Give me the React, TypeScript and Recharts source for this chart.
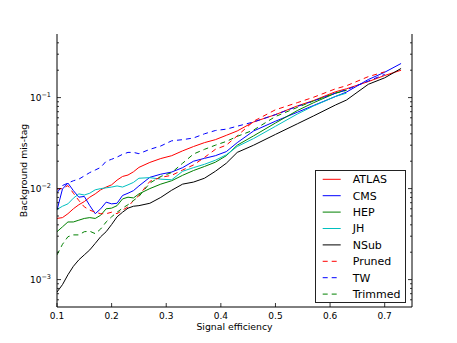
import { LineChart, Line, XAxis, YAxis, Legend } from 'recharts';

// signal efficiency grid shared by all taggers
const effGrid = [
  0.10, 0.11, 0.12, 0.13, 0.14, 0.15, 0.16, 0.17, 0.18, 0.19, 0.20, 0.21, 0.22, 0.23, 0.24, 0.25,
  0.27, 0.29, 0.31, 0.33, 0.35, 0.37, 0.39, 0.41, 0.43, 0.46, 0.50, 0.54, 0.57, 0.61, 0.63, 0.67, 0.70, 0.73,
];

const atlas = [
  0.0047, 0.0048, 0.0053, 0.0060, 0.00665, 0.0072, 0.00805, 0.00875, 0.0097, 0.0104, 0.011, 0.0124, 0.0136, 0.0141, 0.0153, 0.0171,
  0.0194, 0.0214, 0.023, 0.026, 0.029, 0.032, 0.0345, 0.0385, 0.043, 0.054, 0.065, 0.081, 0.093, 0.116, 0.125, 0.15, 0.175, 0.2,
];
const cms = [
  0.0058, 0.0099, 0.0115, 0.0095, 0.00805, 0.0082, 0.0065, 0.0053, 0.0060, 0.0071, 0.0068, 0.0069, 0.0084, 0.0089, 0.0095, 0.0107,
  0.0133, 0.0144, 0.0152, 0.017, 0.020, 0.0215, 0.023, 0.0255, 0.032, 0.043, 0.055, 0.069, 0.082, 0.103, 0.115, 0.158, 0.19, 0.237,
];
const hep = [
  0.00336, 0.0038, 0.0043, 0.0043, 0.0045, 0.0047, 0.0048, 0.0047, 0.0051, 0.0060, 0.0061, 0.0065, 0.0077, 0.00805, 0.0079, 0.00875,
  0.010, 0.0112, 0.0122, 0.014, 0.0158, 0.0175, 0.0195, 0.023, 0.030, 0.038, 0.0526, 0.072, 0.088, 0.112, 0.121, null, null, null,
];
const jh = [
  0.0059, 0.0064, 0.0068, 0.00785, 0.00875, 0.0085, 0.0089, 0.0097, 0.010, 0.0102, 0.0104, 0.0107, 0.0104, 0.011, 0.0117, 0.013,
  0.0132, 0.0127, 0.0125, 0.0155, 0.017, 0.0185, 0.0205, 0.0235, 0.029, 0.0355, 0.0484, 0.066, 0.081, 0.103, 0.112, null, null, null,
];
const nsub = [
  0.00073, 0.00088, 0.00113, 0.0014, 0.00165, 0.00187, 0.00212, 0.0025, 0.00296, 0.00336, 0.00403, 0.0049, 0.0055, 0.0061, 0.0064, 0.0065,
  0.0069, 0.008, 0.0096, 0.0112, 0.0118, 0.013, 0.0155, 0.019, 0.025, 0.030, 0.0394, 0.0515, 0.063, 0.083, 0.094, 0.14, 0.165, 0.209,
];
const pruned = [
  0.0099, 0.010, 0.0108, 0.0089, 0.0074, 0.0063, 0.0058, 0.0055, 0.0053, 0.0053, 0.0055, 0.0053, 0.0058, 0.0063, 0.0074, 0.0084,
  0.012, 0.0133, 0.014, 0.016, 0.0182, 0.022, 0.027, 0.030, 0.038, 0.055, 0.0735, 0.088, 0.101, 0.125, 0.135, 0.17, 0.192, null,
];
const tw = [
  0.009, 0.0108, 0.0115, 0.0122, 0.0127, 0.0138, 0.015, 0.016, 0.0171, 0.020, 0.021, 0.0222, 0.0238, 0.025, 0.025, 0.0242,
  0.027, 0.0294, 0.0335, 0.0345, 0.036, 0.040, 0.0435, 0.045, 0.0485, 0.054, 0.065, 0.080, 0.092, 0.112, 0.122, 0.152, 0.18, null,
];
const trimmed = [
  0.00187, 0.00244, 0.00296, 0.0031, 0.0031, 0.00336, 0.0034, 0.0032, 0.0036, 0.0043, 0.0049, 0.0055, 0.0061, 0.00665, 0.0074, 0.0082,
  0.0115, 0.0136, 0.015, 0.019, 0.024, 0.027, 0.030, 0.033, 0.0375, 0.044, 0.062, 0.078, 0.092, 0.112, 0.12, null, null, null,
];

const seriesNames = ['ATLAS', 'CMS', 'HEP', 'JH', 'NSub', 'Pruned', 'TW', 'Trimmed'];
const seriesValues = [atlas, cms, hep, jh, nsub, pruned, tw, trimmed];
const seriesColors = ['#ff0000', '#0000ff', '#008000', '#00bfbf', '#000000', '#ff0000', '#0000ff', '#008000'];
const seriesDash = [undefined, undefined, undefined, undefined, undefined, '5 4', '5 4', '5 4'];

const xTicks = [0.1, 0.2, 0.3, 0.4, 0.5, 0.6, 0.7];
const yMajor = [0.001, 0.01, 0.1];
const yMinor = [
  0.0006, 0.0007, 0.0008, 0.0009,
  0.002, 0.003, 0.004, 0.005, 0.006, 0.007, 0.008, 0.009,
  0.02, 0.03, 0.04, 0.05, 0.06, 0.07, 0.08, 0.09,
  0.2, 0.3, 0.4,
];
const yTicks = [...yMajor, ...yMinor];

const FONT = 'DejaVu Sans';

function toPoints(vals: (number | null)[]) {
  return effGrid
    .map((eff, i) => ({ eff, v: vals[i] }))
    .filter((p) => p.v != null);
}

const isMajor = (v: number) => yMajor.some((m) => Math.abs(m - v) < 1e-9);

function LeftTick({ x, y, payload }: any) {
  const major = isMajor(payload.value);
  const exp = Math.round(Math.log10(payload.value));
  return (
    <g>
      <line x1={x} y1={y} x2={x + (major ? 4 : 2)} y2={y} stroke="#000" strokeWidth={0.8} />
      {major && (
        <text x={x - 6} y={y} dy="0.35em" textAnchor="end" fontSize={9} fill="#000" fontFamily={FONT}>
          10<tspan dy={-4} fontSize={6.5}>{'\u2212' + Math.abs(exp)}</tspan>
        </text>
      )}
    </g>
  );
}

function RightTick({ x, y, payload }: any) {
  const major = isMajor(payload.value);
  return <line x1={x - (major ? 4 : 2)} y1={y} x2={x} y2={y} stroke="#000" strokeWidth={0.8} />;
}

function BottomTick({ x, y, payload }: any) {
  return (
    <g>
      <line x1={x} y1={y} x2={x} y2={y - 4} stroke="#000" strokeWidth={0.8} />
      <text x={x} y={y + 9} dy="0.35em" textAnchor="middle" fontSize={9} fill="#000" fontFamily={FONT}>
        {payload.value.toFixed(1)}
      </text>
    </g>
  );
}

function TopTick({ x, y }: any) {
  return <line x1={x} y1={y} x2={x} y2={y + 4} stroke="#000" strokeWidth={0.8} />;
}

const renderLegend = () => (
  <svg width={91} height={133} style={{ display: 'block' }}>
    <rect x={0.5} y={0.5} width={90} height={132} fill="#fff" stroke="#222" strokeWidth={1} />
    {seriesNames.map((name, i) => {
      const cy = 9.3 + i * 16.4;
      return (
        <g key={name}>
          <line x1={7.7} x2={25.7} y1={cy} y2={cy} stroke={seriesColors[i]} strokeWidth={1} strokeDasharray={seriesDash[i]} />
          <text x={37.7} y={cy} dy="0.35em" fontSize={11} fill="#000" fontFamily={FONT}>{name}</text>
        </g>
      );
    })}
  </svg>
);

export default function App() {
  return (
    <div style={{ position: 'absolute', left: 0, top: 0, width: 457, height: 343, background: '#fff' }}>
      <LineChart width={457} height={343} margin={{ top: 34, right: 44, bottom: 0, left: 0 }} style={{ fontFamily: FONT }}>
        <XAxis
          dataKey="eff"
          type="number"
          domain={[0.1, 0.75]}
          allowDataOverflow
          ticks={xTicks}
          interval={0}
          tick={<BottomTick />}
          tickLine={false}
          tickSize={0}
          tickMargin={0}
          height={36}
          axisLine={{ stroke: '#000', strokeWidth: 1 }}
          label={{ value: 'Signal efficiency', position: 'insideBottom', offset: 13, fontSize: 9.3, fill: '#000', fontFamily: FONT }}
        />
        <XAxis
          xAxisId="top"
          orientation="top"
          dataKey="eff"
          type="number"
          domain={[0.1, 0.75]}
          allowDataOverflow
          ticks={xTicks}
          interval={0}
          tick={<TopTick />}
          tickLine={false}
          tickSize={0}
          tickMargin={0}
          height={0}
          axisLine={{ stroke: '#000', strokeWidth: 1 }}
        />
        <YAxis
          scale="log"
          type="number"
          domain={[0.0005, 0.5]}
          allowDataOverflow
          ticks={yTicks}
          interval={0}
          tick={<LeftTick />}
          tickLine={false}
          tickSize={0}
          tickMargin={0}
          width={57}
          axisLine={{ stroke: '#000', strokeWidth: 1 }}
          label={{
            value: 'Background mis-tag',
            angle: -90,
            position: 'insideLeft',
            offset: 24,
            fontSize: 9.3,
            fill: '#000',
            fontFamily: FONT,
            style: { textAnchor: 'middle' },
          }}
        />
        <YAxis
          yAxisId="right"
          orientation="right"
          scale="log"
          type="number"
          domain={[0.0005, 0.5]}
          allowDataOverflow
          ticks={yTicks}
          interval={0}
          tick={<RightTick />}
          tickLine={false}
          tickSize={0}
          tickMargin={0}
          width={1}
          axisLine={{ stroke: '#000', strokeWidth: 1 }}
        />
        {seriesNames.map((name, i) => (
          <Line
            key={name}
            name={name}
            data={toPoints(seriesValues[i])}
            dataKey="v"
            type="linear"
            stroke={seriesColors[i]}
            strokeWidth={1}
            strokeDasharray={seriesDash[i]}
            dot={false}
            activeDot={false}
            isAnimationActive={false}
          />
        ))}
        <Legend
          layout="vertical"
          align="center"
          verticalAlign="middle"
          content={renderLegend}
          wrapperStyle={{ position: 'absolute', left: 315, top: 170, width: 91, height: 133 }}
        />
      </LineChart>
    </div>
  );
}
